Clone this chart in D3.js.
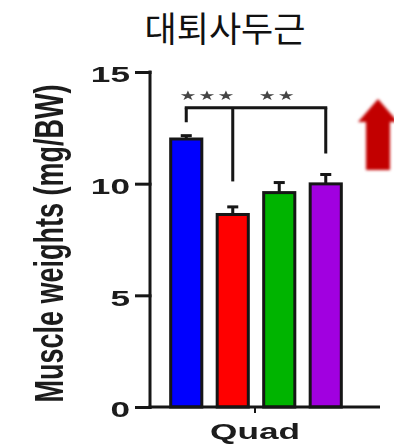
<!DOCTYPE html>
<html>
<head>
<meta charset="utf-8">
<script src="https://cdn.jsdelivr.net/npm/d3@7"></script>
<style>
  html, body { margin: 0; padding: 0; background: #fff; }
  svg { display: block; }
</style>
</head>
<body>
<svg id="chart" width="394" height="444"></svg>
<script>
// Quadriceps muscle weight per body weight, four groups
const title = "대퇴사두근";
const yLabel = "Muscle weights (mg/BW)";
const muscles = ["Quad"];
const groups = ["A", "B", "C", "D"];
const groupColors = ["#0000ff", "#ff0000", "#00b400", "#a100e0"];
const means = [12.0, 8.62, 9.6, 9.99];
const errors = [0.15, 0.34, 0.45, 0.42];
const yTicks = [0, 5, 10, 15];

// significance bracket: one bar joined to two others
const bracketTop = 13.4;
const bracketLegs = [
  { group: "A", end: 12.75 },
  { group: "B", end: 10.1 },
  { group: "D", end: 11.35 }
];
const stars = [
  { from: "A", to: "B", label: "***" },
  { from: "B", to: "D", label: "**" }
];

const svg = d3.select("#chart");
const ink = "#151515";
const stretch = 1.6;

const y = d3.scaleLinear().domain([0, 15]).range([407, 72]);
const x = d3.scaleBand().domain(muscles).range([150, 360]);
const xg = d3.scaleBand().domain(groups)
  .range([x("Quad") + 13, x("Quad") + x.bandwidth() - 11])
  .paddingInner(0.33).paddingOuter(0.165);
const cx = g => xg(g) + xg.bandwidth() / 2;

// soft edge like a scanned figure
const defs = svg.append("defs");
defs.append("filter").attr("id", "soft").append("feGaussianBlur").attr("stdDeviation", 0.5);
defs.append("filter").attr("id", "softer").attr("x", "-20%").attr("y", "-20%")
  .attr("width", "140%").attr("height", "140%")
  .append("feGaussianBlur").attr("stdDeviation", 1.4);

// title
svg.append("text")
  .attr("x", 225).attr("y", 42)
  .attr("text-anchor", "middle")
  .attr("font-family", "'Noto Sans CJK KR', 'Noto Sans', sans-serif")
  .attr("font-size", 35)
  .attr("font-weight", 400)
  .attr("fill", "#111")
  .text(title);

const plot = svg.append("g").attr("filter", "url(#soft)");

// bars
plot.selectAll("rect.bar")
  .data(groups)
  .join("rect")
  .attr("class", "bar")
  .attr("x", g => xg(g))
  .attr("width", xg.bandwidth())
  .attr("y", (g, i) => y(means[i]))
  .attr("height", (g, i) => y(0) - y(means[i]))
  .attr("fill", (g, i) => groupColors[i])
  .attr("stroke", ink)
  .attr("stroke-width", 3);

// upper error whiskers
const eb = plot.selectAll("g.err").data(groups).join("g").attr("class", "err")
  .attr("stroke", ink).attr("stroke-width", 3);
eb.append("line")
  .attr("x1", g => cx(g)).attr("x2", g => cx(g))
  .attr("y1", (g, i) => y(means[i])).attr("y2", (g, i) => y(means[i] + errors[i]));
eb.append("line")
  .attr("x1", g => cx(g) - 5.5).attr("x2", g => cx(g) + 5.5)
  .attr("y1", (g, i) => y(means[i] + errors[i])).attr("y2", (g, i) => y(means[i] + errors[i]));

// y axis
const yAxis = plot.append("g")
  .attr("transform", `translate(${x.range()[0]},0)`)
  .call(d3.axisLeft(y).tickValues(yTicks).tickSize(15).tickSizeOuter(0));
yAxis.select(".domain").attr("stroke", ink).attr("stroke-width", 3)
  .attr("d", `M0,${y(15) - 1.5}V${y(0) + 1.5}`);
yAxis.selectAll(".tick line").attr("stroke", ink).attr("stroke-width", 3).attr("x1", 1.5);
yAxis.selectAll(".tick text")
  .attr("x", 0).attr("dy", "0.45em")
  .attr("transform", `translate(-20,0) scale(${stretch},1)`)
  .attr("font-family", "'Liberation Sans', Arial, sans-serif")
  .attr("font-weight", "bold")
  .attr("font-size", 22)
  .attr("fill", "#1a1a1a");

// x axis
const xAxis = plot.append("g")
  .attr("transform", `translate(0,${y(0)})`)
  .call(d3.axisBottom(x).tickSize(6).tickSizeOuter(0));
xAxis.select(".domain").attr("stroke", ink).attr("stroke-width", 3)
  .attr("d", `M${x.range()[0] - 1.5},0H380`);
xAxis.selectAll(".tick line").attr("stroke", ink).attr("stroke-width", 2);
xAxis.selectAll(".tick text")
  .attr("y", 0).attr("dy", 0)
  .attr("transform", `translate(0,32) scale(${stretch},1)`)
  .attr("font-family", "'Liberation Sans', Arial, sans-serif")
  .attr("font-weight", "bold")
  .attr("font-size", 22)
  .attr("fill", "#1a1a1a");

// y axis title
plot.append("text")
  .attr("transform", `translate(63,${(y(0) + y(15)) / 2 + 4}) rotate(-90) scale(1,1.5)`)
  .attr("text-anchor", "middle")
  .attr("font-family", "'Liberation Sans', Arial, sans-serif")
  .attr("font-weight", "bold")
  .attr("font-size", 27)
  .attr("fill", "#1a1a1a")
  .text(yLabel);

// significance bracket
const legX = bracketLegs.map(d => cx(d.group));
const br = plot.append("g").attr("stroke", ink).attr("stroke-width", 3).attr("fill", "none");
br.append("line")
  .attr("x1", d3.min(legX) - 1.5).attr("x2", d3.max(legX) + 1.5)
  .attr("y1", y(bracketTop)).attr("y2", y(bracketTop));
br.selectAll("line.leg").data(bracketLegs).join("line")
  .attr("class", "leg")
  .attr("x1", d => cx(d.group)).attr("x2", d => cx(d.group))
  .attr("y1", y(bracketTop)).attr("y2", d => y(d.end));

plot.selectAll("text.star").data(stars).join("text")
  .attr("class", "star")
  .attr("transform", d => `translate(${(cx(d.from) + cx(d.to)) / 2 - 1.5},${y(bracketTop) - 8}) scale(1.45,1)`)
  .attr("text-anchor", "middle")
  .attr("font-family", "'DejaVu Sans', sans-serif")
  .attr("font-size", 13)
  .attr("letter-spacing", 1.5)
  .attr("fill", "#444")
  .text(d => d.label.replace(/\*/g, "★"));

// red upward arrow
const ax = 378, aTop = 99, aNeck = 122, aBottom = 170, headHalf = 20, shaftHalf = 12;
svg.append("path")
  .attr("d", d3.line()([
    [ax, aTop], [ax + headHalf, aNeck], [ax + shaftHalf, aNeck], [ax + shaftHalf, aBottom],
    [ax - shaftHalf, aBottom], [ax - shaftHalf, aNeck], [ax - headHalf, aNeck]
  ]) + "Z")
  .attr("fill", "#c20000")
  .attr("filter", "url(#softer)");
</script>
</body>
</html>
